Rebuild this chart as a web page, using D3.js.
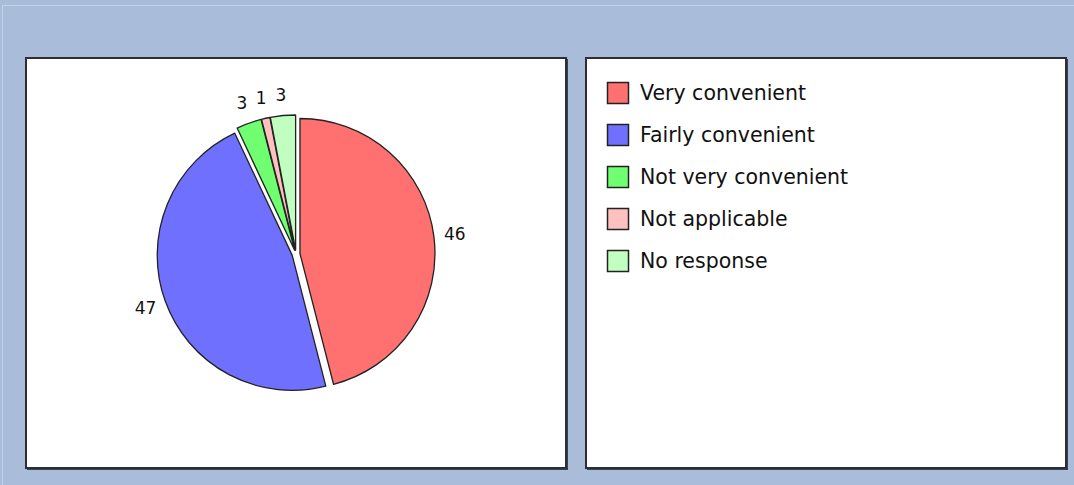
<!DOCTYPE html>
<html>
<head>
<meta charset="utf-8">
<script src="https://cdn.jsdelivr.net/npm/d3@7"></script>
<style>
  html, body { margin: 0; padding: 0; background: #a9bdda; }
  svg { display: block; }
</style>
</head>
<body>
<script>
const categories = ["Very convenient", "Fairly convenient", "Not very convenient", "Not applicable", "No response"];
const values = [46, 47, 3, 1, 3];
const colors = ["#ff7070", "#7070ff", "#70ff70", "#ffc0c0", "#c0ffc0"];

const W = 1074, H = 485;
const svg = d3.select("body").append("svg").attr("width", W).attr("height", H);

// background and light frame lines
svg.append("rect").attr("width", W).attr("height", H).attr("fill", "#a9bdda");
svg.append("line").attr("x1", 2).attr("x2", W).attr("y1", 5.5).attr("y2", 5.5).attr("stroke", "#bcd7e8").attr("stroke-width", 1);
svg.append("line").attr("x1", 2.5).attr("x2", 2.5).attr("y1", 5).attr("y2", H).attr("stroke", "#bcd7e8").attr("stroke-width", 1);

function panel(x, y, w, h) {
  svg.append("rect").attr("x", x + 1).attr("y", y + 1).attr("width", w + 1).attr("height", h + 1).attr("fill", "#3c424c");
  svg.append("rect").attr("x", x).attr("y", y).attr("width", w).attr("height", h)
    .attr("fill", "#fff").attr("stroke", "#2c2f36").attr("stroke-width", 2);
}
panel(26, 58, 540, 410);
panel(586, 58, 480, 410);

// pie
const cx = 296, cy = 254, R = 135, explode = 4;
const pie = d3.pie().sort(null).value(d => d)(values);
const arc = d3.arc().innerRadius(0).outerRadius(R);
const labelArc = d3.arc().innerRadius(160).outerRadius(160);

const g = svg.append("g").attr("transform", `translate(${cx},${cy})`);
g.selectAll("path").data(pie).join("path")
  .attr("d", arc)
  .attr("transform", d => {
    const a = (d.startAngle + d.endAngle) / 2;
    return `translate(${explode * Math.sin(a)},${-explode * Math.cos(a)})`;
  })
  .attr("fill", (d, i) => colors[i])
  .attr("stroke", "#222")
  .attr("stroke-width", 1.3)
  .attr("stroke-linejoin", "round");

g.selectAll("text").data(pie).join("text")
  .attr("x", d => labelArc.centroid(d)[0])
  .attr("y", d => labelArc.centroid(d)[1])
  .attr("text-anchor", "middle")
  .attr("dominant-baseline", "central")
  .attr("font-family", "DejaVu Sans, sans-serif")
  .attr("font-size", 17)
  .attr("fill", "#111")
  .text(d => d.data);

// legend
const leg = svg.append("g").attr("transform", "translate(607,93)");
const rows = leg.selectAll("g").data(categories).join("g")
  .attr("transform", (d, i) => `translate(0,${i * 42})`);
rows.append("rect").attr("x", 0.5).attr("y", -10.5).attr("width", 21).attr("height", 21)
  .attr("fill", (d, i) => colors[i]).attr("stroke", "#222").attr("stroke-width", 1.5);
rows.append("text").attr("x", 33).attr("y", 0)
  .attr("dominant-baseline", "central")
  .attr("font-family", "DejaVu Sans, sans-serif")
  .attr("font-size", 20.5)
  .attr("fill", "#111")
  .text(d => d);
</script>
</body>
</html>
